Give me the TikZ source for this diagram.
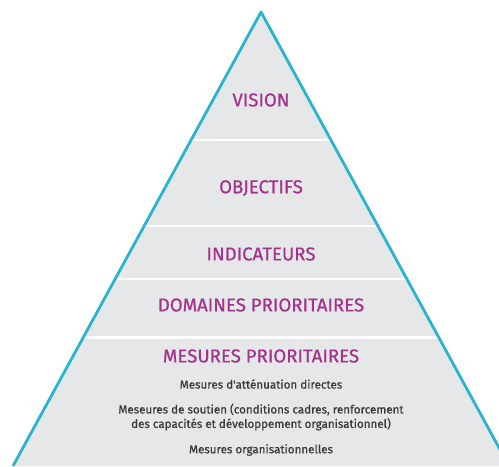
\documentclass[tikz,border=0pt]{standalone}
\usepackage{fontspec}
\setmainfont{Fira Sans}
\newfontfamily\pyrmedium{Fira Sans}[FakeBold=0.7]
\usepackage{tikz}
\usetikzlibrary{positioning}

\definecolor{pyrcyan}{HTML}{2BB5CC}
\definecolor{pyrgrey}{HTML}{E6E7E8}
\definecolor{pyrmagenta}{HTML}{A3338C}
\definecolor{pyrtext}{HTML}{3A3A3A}

\begin{document}
\begin{tikzpicture}[x=0.02cm, y=-0.02cm,
        level/.style={text=pyrmagenta, font=\pyrmedium\fontsize{10.6}{12}\selectfont, inner sep=0pt},
        detail/.style={text=pyrtext, font=\pyrmedium\fontsize{6.6}{8.2}\selectfont, align=center, inner sep=0pt}]
        \useasboundingbox (0,0) rectangle (499,466);
        \coordinate (A) at (261,12);
        \coordinate (L) at (13,466);
        \coordinate (R) at (509,466);
        \fill[pyrgrey] (A) -- (L) -- (R) -- cycle;
        % separators between the levels
        \begin{scope}
            \clip (A) -- (L) -- (R) -- cycle;
            \foreach \y in {140,226,279,337}
                \draw[white, line width=1.7pt] (0,\y) -- (499,\y);
        \end{scope}
        \draw[pyrcyan, line width=1.6pt, line join=round] (L) -- (A) -- (R);
        \node[level] (vision) at (261,100) {VISION};
        \node[level] (objectifs) at (261,188) {OBJECTIFS};
        \node[level] (indicateurs) at (261,254) {INDICATEURS};
        \node[level] (domaines) at (261,305) {DOMAINES PRIORITAIRES};
        \node[level] (mesures) at (261,356) {MESURES PRIORITAIRES};
        \node[detail] (attenuation) at (261,384) {Mesures d'atténuation directes};
        \node[detail] (soutien) at (261,417) {Meseures de soutien (conditions cadres, renforcement\\des capacités et développement organisationnel)};
        \node[detail] (organisation) at (261,450) {Mesures organisationnelles};
    \end{tikzpicture}
\end{document}
